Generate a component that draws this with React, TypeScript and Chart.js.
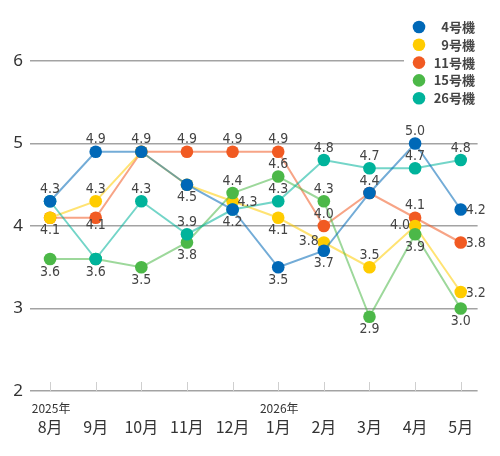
import React, { useEffect, useRef } from 'react';
import { Chart, registerables } from 'chart.js';

Chart.register(...registerables);

// Months on the horizontal axis, with the year shown above the first month of each year
const months = ['8月', '9月', '10月', '11月', '12月', '1月', '2月', '3月', '4月', '5月'];
const yearIndex = [0, 5];
const yearText = ['2025年', '2026年'];

// Unit names and monthly readings
const units = ['4号機', '9号機', '11号機', '15号機', '26号機'];
const unit4 = [4.3, 4.9, 4.9, 4.5, 4.2, 3.5, 3.7, 4.4, 5.0, 4.2];
const unit9 = [4.1, 4.3, 4.9, 4.5, 4.3, 4.1, 3.8, 3.5, 4.0, 3.2];
const unit11 = [4.1, 4.1, 4.9, 4.9, 4.9, 4.9, 4.0, 4.4, 4.1, 3.8];
const unit15 = [3.6, 3.6, 3.5, 3.8, 4.4, 4.6, 4.3, 2.9, 3.9, 3.0];
const unit26 = [4.3, 3.6, 4.3, 3.9, 4.2, 4.3, 4.8, 4.7, 4.7, 4.8];
const series = [unit4, unit9, unit11, unit15, unit26];

const yTicks = [2, 3, 4, 5, 6];

// Where each value label sits relative to its point: t=above, b=below, l=left, r=right, n=hidden
const place4 = ['t', 't', 't', 'b', 'b', 'b', 'b', 't', 't', 'r'];
const place9 = ['b', 't', 'n', 'n', 'r', 'b', 'l', 't', 'l', 'r'];
const place11 = ['n', 'bs', 'n', 't', 't', 't', 't', 'n', 't', 'r'];
const place15 = ['b', 'n', 'b', 'b', 't', 't', 't', 'b', 'b', 'b'];
const place26 = ['n', 'b', 't', 't', 'n', 't', 't', 't', 't', 't'];
const placements = [place4, place9, place11, place15, place26];

const pointColors = ['#0068b7', '#ffcc00', '#f15a22', '#4cb848', '#00b39b'];
const lineColors = [
  'rgba(0,104,183,0.55)',
  'rgba(255,204,0,0.55)',
  'rgba(241,90,34,0.55)',
  'rgba(76,184,72,0.55)',
  'rgba(0,179,155,0.55)',
];
// drawing stack: lower numbers end up on top
const drawOrder = [0, 3, 4, 2, 1];

const LABEL_FONT = '14px "DejaVu Sans Condensed", "DejaVu Sans", sans-serif';
const CJK = '"Noto Sans CJK JP", "Noto Sans", sans-serif';

const decorations = {
  id: 'decorations',
  beforeDatasetsDraw(chart: any) {
    const { ctx, chartArea, scales } = chart;
    const x = scales.x;
    ctx.save();
    ctx.strokeStyle = '#cfcfcf';
    ctx.lineWidth = 1;
    months.forEach((_, i) => {
      const px = Math.round(x.getPixelForValue(i)) + 0.5;
      ctx.beginPath();
      ctx.moveTo(px, chartArea.bottom - 9);
      ctx.lineTo(px, chartArea.bottom);
      ctx.stroke();
    });
    ctx.fillStyle = '#333';
    ctx.font = '12px ' + CJK;
    ctx.textAlign = 'center';
    ctx.textBaseline = 'middle';
    yearIndex.forEach((idx, k) => {
      ctx.fillText(yearText[k], x.getPixelForValue(idx) + 1, chartArea.bottom + 17);
    });
    ctx.restore();
  },
  afterDatasetsDraw(chart: any) {
    const { ctx } = chart;
    ctx.save();
    ctx.font = LABEL_FONT;
    ctx.fillStyle = '#444';
    ctx.textBaseline = 'middle';
    series.forEach((vals, di) => {
      const meta = chart.getDatasetMeta(di);
      vals.forEach((v, j) => {
        const p = placements[di][j];
        if (p === 'n') return;
        const pt = meta.data[j];
        let lx = pt.x;
        let ly = pt.y;
        ctx.textAlign = 'center';
        if (p === 't') ly -= 12;
        else if (p === 'b') ly += 13;
        else if (p === 'bs') ly += 8;
        else if (p === 'l') {
          ctx.textAlign = 'right';
          lx -= 5;
          ly -= 1;
        } else if (p === 'r') {
          ctx.textAlign = 'left';
          lx += 5;
          ly += 1;
        }
        ctx.fillText(v.toFixed(1), lx, ly);
      });
    });
    ctx.restore();
  },
  afterDraw(chart: any) {
    const { ctx } = chart;
    ctx.save();
    ctx.fillStyle = '#fff';
    ctx.fillRect(404, 12, 96, 98);
    ctx.font = 'bold 13px ' + CJK;
    ctx.textBaseline = 'middle';
    ctx.textAlign = 'right';
    units.forEach((name, i) => {
      const cy = 27 + i * 17.8;
      ctx.fillStyle = pointColors[i];
      ctx.beginPath();
      ctx.arc(419, cy, 6.3, 0, Math.PI * 2);
      ctx.fill();
      ctx.fillStyle = '#444';
      ctx.fillText(name, 475, cy);
    });
    ctx.restore();
  },
};

export default function App() {
  const ref = useRef<HTMLCanvasElement>(null);

  useEffect(() => {
    if (!ref.current) return;
    const chart = new Chart(ref.current, {
      type: 'line',
      data: {
        datasets: series.map((vals, i) => ({
          label: units[i],
          data: vals.map((v, j) => ({ x: j, y: v })),
          borderColor: lineColors[i],
          borderWidth: 2,
          pointBackgroundColor: pointColors[i],
          pointBorderWidth: 0,
          pointRadius: 6.3,
          tension: 0,
          order: drawOrder[i],
        })),
      },
      options: {
        animation: false,
        responsive: false,
        devicePixelRatio: 1,
        layout: { padding: { top: 61, right: 22, left: 0, bottom: 0 } },
        plugins: {
          legend: { display: false },
          tooltip: { enabled: false },
        },
        scales: {
          x: {
            type: 'linear',
            min: -0.44,
            max: 9.37,
            afterFit: (s: any) => {
              s.height = 65;
            },
            grid: { display: false, drawTicks: false },
            border: { display: false },
            ticks: {
              stepSize: 1,
              includeBounds: false,
              autoSkip: false,
              maxRotation: 0,
              padding: 26,
              color: '#333',
              font: { family: '"Noto Sans CJK JP", "Noto Sans", sans-serif', size: 16 },
              callback: (v: any) => months[v] ?? '',
            },
          },
          y: {
            min: 2,
            max: 6,
            afterFit: (s: any) => {
              s.width = 30;
            },
            afterBuildTicks: (s: any) => {
              s.ticks = yTicks.map((v) => ({ value: v }));
            },
            grid: { color: '#a3a3a3', lineWidth: 1.5, drawTicks: false },
            border: { display: false },
            ticks: {
              padding: 7,
              color: '#333',
              font: { family: '"Noto Sans", sans-serif', size: 17 },
            },
          },
        },
      },
      plugins: [decorations],
    });
    return () => chart.destroy();
  }, []);

  return (
    <div style={{ position: 'absolute', left: 0, top: 0, width: 500, height: 456, background: '#fff' }}>
      <canvas ref={ref} width={500} height={456} />
    </div>
  );
}
